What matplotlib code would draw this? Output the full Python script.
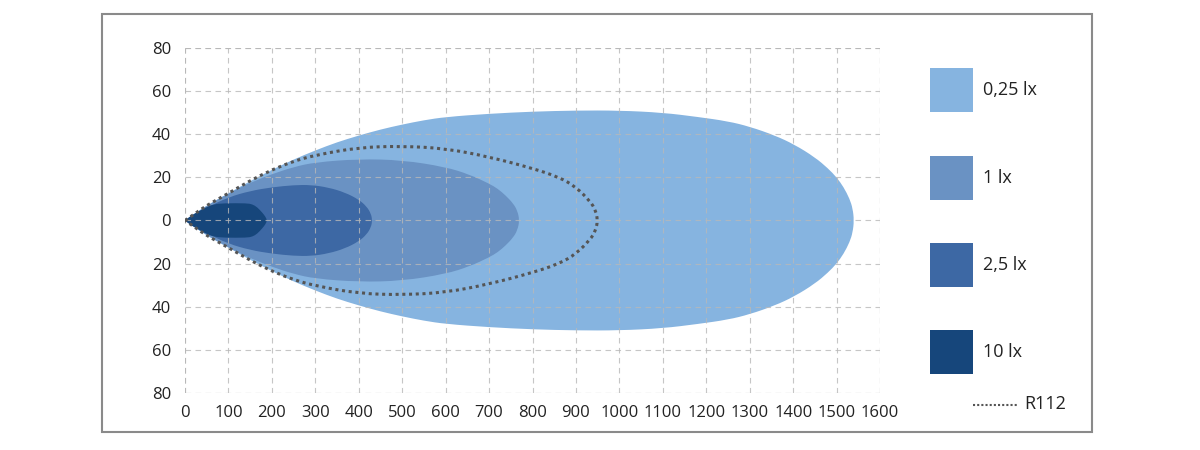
import matplotlib.pyplot as plt
from matplotlib.patches import Rectangle, PathPatch
from matplotlib.path import Path
from matplotlib.lines import Line2D

plt.rcParams['font.family'] = ['Open Sans', 'DejaVu Sans']

# upper half of each isolux contour (distance m, half-width m); shapes are symmetric
lx025_x = [0, 25, 50, 100, 150, 200, 250, 300, 350, 400, 450, 500, 550, 600, 700, 800, 900, 1000, 1100,
           1181, 1250, 1300, 1357, 1403, 1450, 1480, 1500, 1516, 1530, 1537, 1540]
lx025_y = [0, 3.5, 7, 12.6, 18.3, 23.5, 28.3, 32.5, 36.3, 39.4, 42.2, 44.5, 46.5, 48, 49.5, 50.5, 51, 51, 50,
           48, 46, 43.5, 39.5, 35.2, 29.3, 24.2, 20, 15.5, 10, 5.5, 0]

lx1_x = [0, 25, 50, 100, 150, 200, 250, 300, 400, 500, 600, 655, 700, 720, 738, 755, 765, 770]
lx1_y = [0, 3.5, 6.8, 12.6, 17.5, 21.5, 24.8, 27, 28.5, 28, 24.8, 21.3, 17.1, 14.7, 11.6, 8, 4.6, 0]

lx25_x = [0, 25, 50, 100, 150, 200, 250, 290, 330, 368, 400, 418, 428, 431]
lx25_y = [0, 3.3, 6, 10.8, 13.7, 15.4, 16.4, 16.5, 15.3, 13, 9.7, 6.5, 3.2, 0]

lx10_x = [0, 10, 27, 45, 65, 90, 142, 155, 166, 178, 185, 189]
lx10_y = [0, 1.8, 3.7, 5.8, 7.5, 8, 8, 7.5, 6.2, 3.6, 1.8, 0]

r112_x = [0, 25, 50, 100, 150, 200, 250, 300, 400, 500, 600, 700, 800, 862, 900, 933, 945, 950]
r112_y = [0, 3.5, 7, 12.6, 18.5, 23.5, 27.5, 30.3, 33.9, 34.5, 33.4, 29.5, 24.2, 20, 15.5, 8.8, 4.8, 0]

labels = ['0,25 lx', '1 lx', '2,5 lx', '10 lx']
colors = ['#86b4e0', '#6a92c3', '#3d68a4', '#16467b']


def lobe_path(xs, ys):
    # closed outline (upper half then mirrored lower half), drawn as quadratic curves
    ring = list(zip(xs, ys)) + [(x, -y) for x, y in zip(xs[-2::-1], ys[-2::-1])]
    verts = [ring[0]]
    codes = [Path.MOVETO]
    for i in range(1, len(ring) - 1):
        p, q = ring[i], ring[i + 1]
        end = q if i == len(ring) - 2 else ((p[0] + q[0]) / 2, (p[1] + q[1]) / 2)
        verts += [p, end]
        codes += [Path.CURVE3, Path.CURVE3]
    return Path(verts, codes)


fig = plt.figure(figsize=(12, 4.5), dpi=100)
ax = fig.add_axes([0.1542, 0.1267, 0.5792, 0.7667])

contours = [(lx025_x, lx025_y), (lx1_x, lx1_y), (lx25_x, lx25_y), (lx10_x, lx10_y)]
for (xs, ys), c in zip(contours, colors):
    ax.add_patch(PathPatch(lobe_path(xs, ys), facecolor=c, edgecolor='none', zorder=1))

ax.add_patch(PathPatch(lobe_path(r112_x, r112_y), facecolor='none', edgecolor='#555555',
                       linestyle=(0, (1, 1.2)), linewidth=2.2, zorder=3))

ax.set_xlim(0, 1600)
ax.set_ylim(-80, 80)
ax.set_xticks(range(0, 1601, 100))
ax.set_yticks(range(-80, 81, 20))
ax.set_yticklabels([str(abs(v)) for v in range(-80, 81, 20)])
ax.tick_params(length=0, labelsize=12, colors='#222222', pad=10)
ax.tick_params(axis='x', pad=9)
for s in ax.spines.values():
    s.set_visible(False)
ax.grid(True, color='#b8b8b8', linestyle=(0, (5, 4)), linewidth=0.8, alpha=0.8, zorder=2)
ax.set_axisbelow(False)
# dashed border lines at limits
for v in (0, 1600):
    ax.axvline(v, color='#b8b8b8', linestyle=(0, (5, 4)), linewidth=0.8, zorder=2)
for v in (-80, 80):
    ax.axhline(v, color='#b8b8b8', linestyle=(0, (5, 4)), linewidth=0.8, zorder=2)

# legend drawn by hand at the right
W, H = 1200, 450
box_tops = [68, 156, 243, 330]
for lab, c, top in zip(labels, colors, box_tops):
    fig.add_artist(Rectangle((930 / W, 1 - (top + 44) / H), 43 / W, 44 / H,
                             transform=fig.transFigure, color=c, linewidth=0))
    fig.text(983 / W, 1 - (top + 22) / H, lab, fontsize=13, va='center', ha='left', color='#222222')
fig.add_artist(Line2D([973 / W, 1017 / W], [1 - 405 / H, 1 - 405 / H], transform=fig.transFigure,
                      color='#555555', linestyle=(0, (1, 1)), linewidth=1.5))
fig.text(1024 / W, 1 - 404 / H, 'R112', fontsize=13, va='center', ha='left', color='#222222')

# outer frame
fig.add_artist(Rectangle((102 / W, 1 - 432 / H), 990 / W, 418 / H, transform=fig.transFigure,
                         fill=False, edgecolor='#8a8a8a', linewidth=1.5))

fig.savefig('out.png', dpi=100)
